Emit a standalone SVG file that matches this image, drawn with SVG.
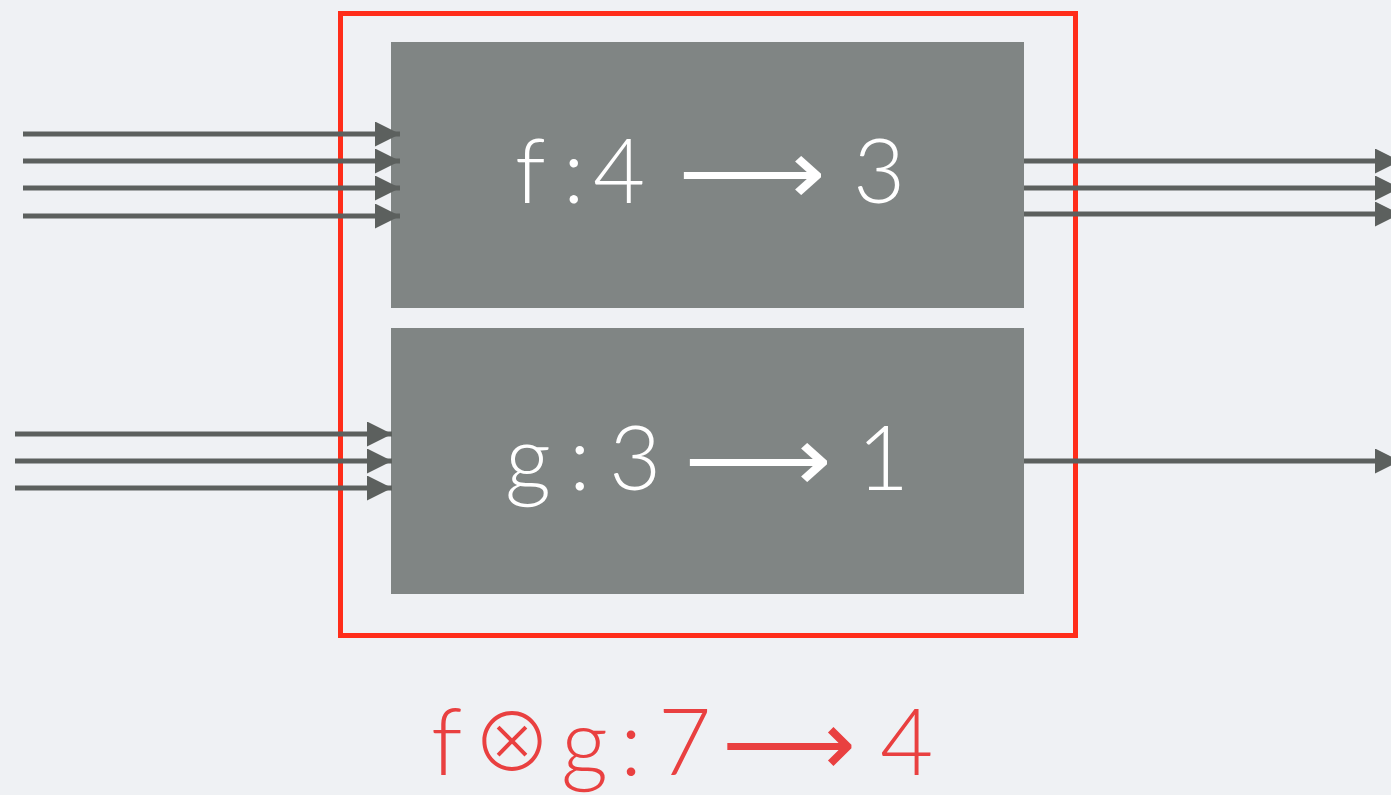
<svg xmlns="http://www.w3.org/2000/svg" width="1391" height="795" viewBox="0 0 1391 795">
<defs>
<marker id="ah" viewBox="0 0 10 10" refX="10" refY="5" markerWidth="5" markerHeight="5" markerUnits="strokeWidth" orient="auto">
<path d="M0,0 L10,5 L0,10 Z" fill="#5c605e"/>
</marker>
<style>
.bg{fill:#eff1f4}
.box{fill:#808584}
.frame{fill:none;stroke:#ff2d1a;stroke-width:5}
.wire{stroke:#5c605e;stroke-width:5;fill:none;marker-end:url(#ah)}
.lbl{font-family:"Lato","DejaVu Sans",sans-serif;font-weight:300;font-size:90px;fill:#ffffff}
.red{font-family:"Lato","DejaVu Sans",sans-serif;font-weight:300;font-size:92px;fill:#e94040}
.arr{font-family:"DejaVu Sans",sans-serif;font-weight:200}
.otimes{font-family:"Noto Sans CJK JP","DejaVu Sans",sans-serif;font-weight:300;font-size:80px}
</style>
</defs>
<rect class="bg" x="0" y="0" width="1391" height="795"/>
<g id="tensor">
<rect class="frame" x="340.5" y="13.5" width="735" height="622"/>
<text class="red" y="775"><tspan x="431">f</tspan><tspan class="otimes" x="472" dy="-4">⊗</tspan><tspan x="561" dy="4">g</tspan><tspan x="620">:</tspan><tspan x="658">7</tspan><tspan class="arr" x="722" textLength="134" lengthAdjust="spacingAndGlyphs">⟶</tspan><tspan x="880">4</tspan></text>
</g>
<g id="f">
<rect class="box" x="391" y="42" width="633" height="266"/>
<text class="lbl" y="203"><tspan x="515">f</tspan><tspan x="563">:</tspan><tspan x="593">4</tspan><tspan class="arr" x="678" textLength="148" lengthAdjust="spacingAndGlyphs">⟶</tspan><tspan x="853">3</tspan></text>
</g>
<g id="g">
<rect class="box" x="391" y="328" width="633" height="266"/>
<text class="lbl" y="490"><tspan x="505">g</tspan><tspan x="569">:</tspan><tspan x="609">3</tspan><tspan class="arr" x="684" textLength="148" lengthAdjust="spacingAndGlyphs">⟶</tspan><tspan x="857">1</tspan></text>
</g>
<g id="connectors">
<line class="wire" x1="23" y1="134" x2="400" y2="134"/>
<line class="wire" x1="23" y1="161" x2="400" y2="161"/>
<line class="wire" x1="23" y1="188" x2="400" y2="188"/>
<line class="wire" x1="23" y1="216" x2="400" y2="216"/>
<line class="wire" x1="15" y1="434" x2="392" y2="434"/>
<line class="wire" x1="15" y1="461" x2="392" y2="461"/>
<line class="wire" x1="15" y1="488" x2="392" y2="488"/>
<line class="wire" x1="1024" y1="161" x2="1400" y2="161"/>
<line class="wire" x1="1024" y1="188" x2="1400" y2="188"/>
<line class="wire" x1="1024" y1="214" x2="1400" y2="214"/>
<line class="wire" x1="1024" y1="461" x2="1400" y2="461"/>
</g>
</svg>
